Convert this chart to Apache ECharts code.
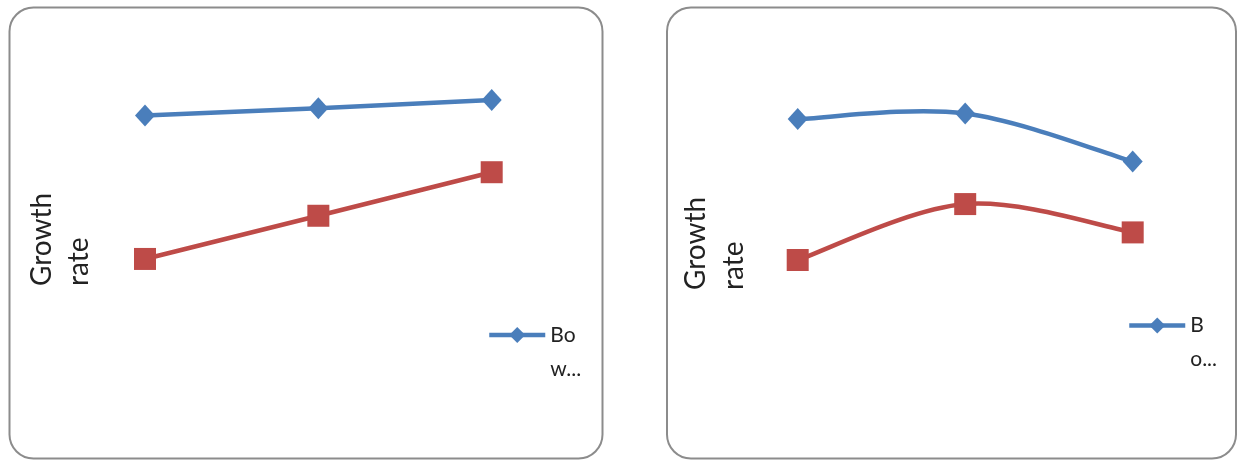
<!DOCTYPE html>
<html><head><meta charset="utf-8">
<script src="https://cdn.jsdelivr.net/npm/echarts@6/dist/echarts.min.js"></script>
<style>html,body{margin:0;padding:0;background:#fff}#c{width:1241px;height:460px}</style>
</head><body><div id="c"></div>
<script>
// ---- data ----
const categories = ['1', '2', '3'];
const leftBlue = [84.3, 86.4, 88.7];
const leftRed = [43.8, 56.0, 68.3];
const rightBlue = [83.3, 84.9, 71.3];
const rightRed = [43.5, 59.3, 51.3];
const blueName = 'Bow';
const redName = 'Series 2';
const axisTitleLines = ['Growth', 'rate'];
const leftLegendLines = ['Bo', 'w...'];
const rightLegendLines = ['B', 'o...'];

// ---- style ----
const BLUE = '#4a7ebb', RED = '#be4b48', TXT = '#222', FONT = 'Lato';
const LW = 4.5;

function yAxisFor(gridIndex, titleWidth, gap, lh) {
  return {
    type: 'value', gridIndex: gridIndex, min: 0, max: 100,
    axisLine: {show: false}, axisTick: {show: false}, axisLabel: {show: false}, splitLine: {show: false},
    name: axisTitleLines.map(s => '{a|' + s + '}').join('\n'),
    nameLocation: 'middle', nameRotate: 90, nameGap: gap,
    nameTextStyle: {
      color: TXT, fontFamily: FONT, fontSize: 28, lineHeight: lh,
      rich: {a: {width: titleWidth, align: 'left', color: TXT, fontFamily: FONT, fontSize: 28, lineHeight: lh}}
    }
  };
}
function xAxisFor(gridIndex) {
  return {
    type: 'category', gridIndex: gridIndex, data: categories, boundaryGap: false,
    axisLine: {show: false}, axisTick: {show: false}, axisLabel: {show: false}, splitLine: {show: false}
  };
}
function lineSeries(name, data, idx, color, symbol, size, showLine) {
  return {
    type: 'line', name: name, data: data, xAxisIndex: idx, yAxisIndex: idx,
    symbol: symbol, symbolSize: size,
    lineStyle: {color: color, width: showLine ? LW : 0, opacity: showLine ? 1 : 0},
    itemStyle: {color: color},
    emphasis: {disabled: true}, z: color === BLUE ? 4 : 3
  };
}
// smooth (Excel-like, Catmull-Rom) line drawn through the axis scales
function smoothSeries(name, values, idx, color) {
  return {
    type: 'custom', name: name, xAxisIndex: idx, yAxisIndex: idx, silent: true, z: 2,
    data: values.map((v, i) => [i, v]),
    encode: {x: 0, y: 1},
    renderItem: function (params, api) {
      if (params.dataIndex !== 0) return null;
      const p = values.map((v, i) => api.coord([i, v]));
      let d = 'M' + p[0][0] + ' ' + p[0][1];
      for (let i = 0; i < p.length - 1; i++) {
        const p0 = p[Math.max(i - 1, 0)], p1 = p[i], p2 = p[i + 1], p3 = p[Math.min(i + 2, p.length - 1)];
        const c1 = [p1[0] + (p2[0] - p0[0]) / 6, p1[1] + (p2[1] - p0[1]) / 6];
        const c2 = [p2[0] - (p3[0] - p1[0]) / 6, p2[1] - (p3[1] - p1[1]) / 6];
        d += ' C' + c1[0] + ' ' + c1[1] + ' ' + c2[0] + ' ' + c2[1] + ' ' + p2[0] + ' ' + p2[1];
      }
      return {type: 'path', shape: {pathData: d}, style: {fill: 'none', stroke: color, lineWidth: LW, lineJoin: 'round'}};
    }
  };
}
function legendFor(left, top, lines) {
  return {
    data: [blueName], left: left, top: top, padding: 0, orient: 'vertical',
    itemWidth: 56, itemHeight: 20, selectedMode: false,
    lineStyle: {width: 4.5, color: BLUE},
    itemStyle: {color: BLUE},
    formatter: () => [' '].concat(lines).join('\n'),
    textStyle: {color: TXT, fontFamily: FONT, fontSize: 21, lineHeight: 34}
  };
}

const chart = echarts.init(document.getElementById('c'), null, {renderer: 'canvas'});
chart.setOption({
  animation: false,
  backgroundColor: '#fff',
  graphic: [
    {type: 'rect', shape: {x: 9.5, y: 7.5, width: 593, height: 451, r: 24},
     style: {fill: 'none', stroke: '#8c8c8c', lineWidth: 2}, silent: true, z: 0},
    {type: 'rect', shape: {x: 667, y: 7.5, width: 569, height: 451, r: 24},
     style: {fill: 'none', stroke: '#8c8c8c', lineWidth: 2}, silent: true, z: 0}
  ],
  grid: [
    {left: 145, top: 60, width: 346.7, height: 354},
    {left: 797.7, top: 60, width: 335, height: 354}
  ],
  xAxis: [xAxisFor(0), xAxisFor(1)],
  yAxis: [yAxisFor(0, 98, 48, 37), yAxisFor(1, 106, 45, 38)],
  legend: [legendFor(487, 284, leftLegendLines), legendFor(1127, 274.5, rightLegendLines)],
  series: [
    lineSeries(blueName, leftBlue, 0, BLUE, 'diamond', [20, 22], true),
    lineSeries(redName, leftRed, 0, RED, 'rect', 22, true),
    smoothSeries(blueName, rightBlue, 1, BLUE),
    smoothSeries(redName, rightRed, 1, RED),
    lineSeries(blueName, rightBlue, 1, BLUE, 'diamond', [20, 22], false),
    lineSeries(redName, rightRed, 1, RED, 'rect', 22, false)
  ]
});
</script></body></html>
